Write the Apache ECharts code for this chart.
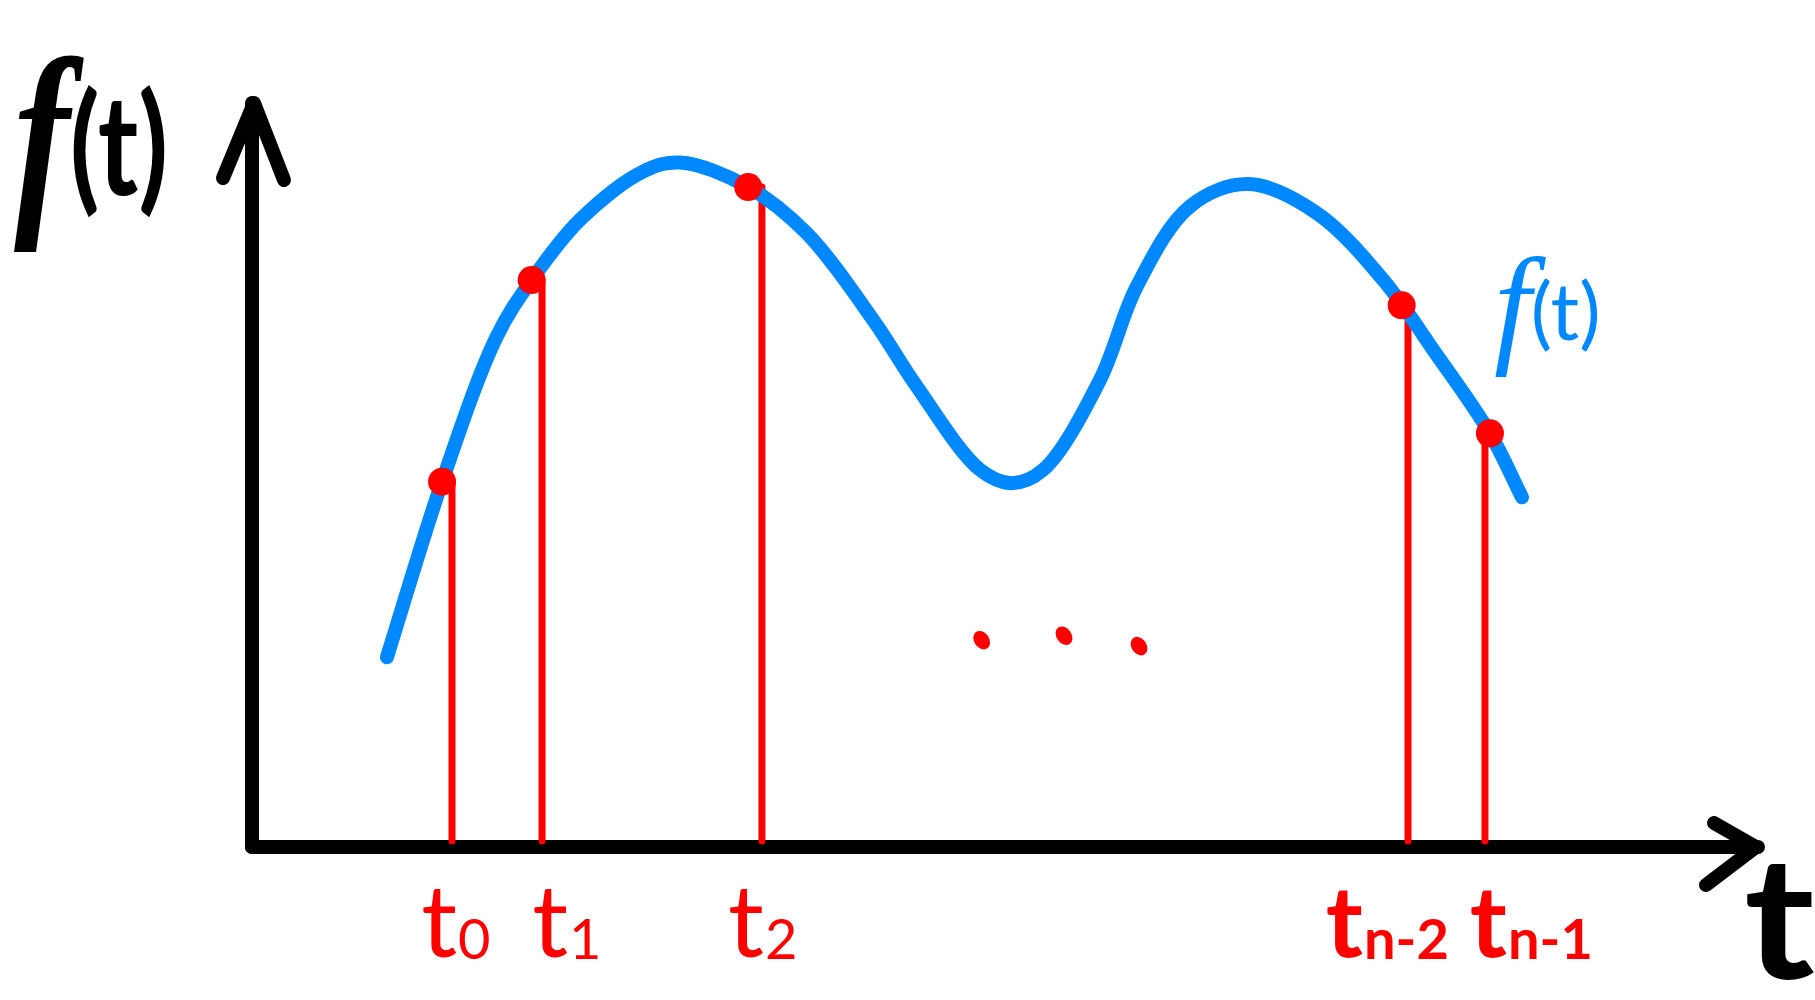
<!DOCTYPE html>
<html>
<head>
<meta charset="utf-8">
<script src="https://cdn.jsdelivr.net/npm/echarts@6/dist/echarts.min.js"></script>
<style>
html,body{margin:0;padding:0;background:#fff;}
#chart{width:1815px;height:1000px;}
</style>
</head>
<body>
<div id="chart"></div>
<script>
// ---------- data ----------
const curveX = [8.96, 12.62, 16.25, 18.57, 21.78, 25.98, 28.42, 32.95, 36.83, 41.26, 44.14, 48.34, 50.45, 52.54, 56.31, 58.74, 62.28, 66.16, 70.70, 75.12, 78.44, 82.20, 84.33];
const curveY = [25.5, 49.1, 68.6, 76.2, 84.3, 90.8, 92.0, 88.7, 82.5, 70.8, 61.9, 50.7, 48.9, 50.7, 62.8, 75.3, 86.1, 89.1, 85.2, 76.2, 66.8, 55.6, 47.0];
const sampleDotX = [12.62, 18.57, 32.95, 76.34, 82.20];
const sampleDotY = [49.1, 76.2, 88.7, 72.8, 55.6];
const sampleLineX = [13.28, 19.26, 33.86, 76.76, 81.87];
const sampleSub = ['0', '1', '2', 'n-2', 'n-1'];
const ellipsisX = [48.45, 53.92, 58.90];
const ellipsisY = [27.8, 28.4, 27.0];
const axisMin = 0, axisMax = 100;
const yAxisTitle = ['f', '(t)'];
const xAxisTitle = 't';
const curveTitle = ['f', '(t)'];

// ---------- styles ----------
const RED = '#ff0000';
const BLUE = '#0088ff';
const BLACK = '#000000';
const FONT = 'Lato';
const SERIF = '"Liberation Serif"';
const labelShift = [5, 26, 2, -45, 22];      // t right edge relative to its line
const labelWeight = ['normal', 'normal', 'normal', 'bold', 'bold'];
const T_SIZE = 100, SUB_SIZE = 56;
const T_DY = 78, SUB_DY = 94;

const chart = echarts.init(document.getElementById('chart'), null, {renderer: 'canvas'});

const axisCommon = {
  type: 'value', min: axisMin, max: axisMax,
  axisTick: {show: false}, axisLabel: {show: false}, splitLine: {show: false},
  axisLine: {show: true, onZero: false, lineStyle: {color: BLACK, width: 14}}
};

// centripetal Catmull-Rom through the curve points, as cubic Beziers in pixel space
function smoothPath(P) {
  const n = P.length;
  const pts = [[2 * P[0][0] - P[1][0], 2 * P[0][1] - P[1][1]]].concat(P,
    [[2 * P[n - 1][0] - P[n - 2][0], 2 * P[n - 1][1] - P[n - 2][1]]]);
  const dist = (a, b) => Math.hypot(a[0] - b[0], a[1] - b[1]);
  let path = 'M' + P[0][0] + ',' + P[0][1];
  for (let i = 1; i < pts.length - 2; i++) {
    const p0 = pts[i - 1], p1 = pts[i], p2 = pts[i + 1], p3 = pts[i + 2];
    const d1 = Math.sqrt(dist(p0, p1)) || 1e-6, d2 = Math.sqrt(dist(p1, p2)) || 1e-6, d3 = Math.sqrt(dist(p2, p3)) || 1e-6;
    const a1 = d1 * d1, a2 = d2 * d2, a3 = d3 * d3;
    const k1 = 3 * d1 * (d1 + d2), k2 = 3 * d3 * (d3 + d2);
    const c1 = [0, 1].map(j => (a1 * p2[j] - a2 * p0[j] + (2 * a1 + 3 * d1 * d2 + a2) * p1[j]) / k1);
    const c2 = [0, 1].map(j => (a3 * p1[j] - a2 * p3[j] + (2 * a3 + 3 * d3 * d2 + a2) * p2[j]) / k2);
    path += ' C' + c1[0] + ',' + c1[1] + ' ' + c2[0] + ',' + c2[1] + ' ' + p2[0] + ',' + p2[1];
  }
  return path;
}

const option = {
  backgroundColor: '#ffffff',
  animation: false,
  grid: {left: 252, right: 57, top: 103, bottom: 153, containLabel: false},
  xAxis: Object.assign({}, axisCommon),
  yAxis: Object.assign({}, axisCommon),
  graphic: [
    {type: 'text', x: 14, y: 150, scaleX: 0.78,
      style: {text: '{f|' + yAxisTitle[0] + '}{p|' + yAxisTitle[1] + '}', fill: BLACK, textAlign: 'left', textVerticalAlign: 'middle',
        rich: {f: {font: 'italic bold 215px ' + SERIF, fill: BLACK}, p: {font: 'bold 140px ' + FONT, fill: BLACK}}}},
    {type: 'text', x: 1744, y: 924, scaleX: 1.12,
      style: {text: xAxisTitle, font: 'bold 170px ' + FONT, fill: BLACK, textAlign: 'left', textVerticalAlign: 'middle'}},
    {type: 'text', x: 1494, y: 314,
      style: {text: '{f|' + curveTitle[0] + '}{p|' + curveTitle[1] + '}', fill: BLUE, textAlign: 'left', textVerticalAlign: 'middle',
        rich: {f: {font: 'italic 132px ' + SERIF, fill: BLUE}, p: {font: '80px ' + FONT, fill: BLUE}}}}
  ],
  series: [
    {
      // axis arrow heads, anchored at the axis ends
      type: 'custom', name: 'arrows', z: 5, silent: true,
      data: [[axisMax, axisMin, 0], [axisMin, axisMax, 1]],
      renderItem: function (params, api) {
        const p = api.coord([api.value(0), api.value(1)]);
        const isY = api.value(2) === 1;
        const pts = isY
          ? [[p[0] - 29, p[1] + 75], [p[0] + 2, p[1]], [p[0] + 32, p[1] + 77]]
          : [[p[0] - 44, p[1] - 24], [p[0] - 2, p[1]], [p[0] - 52, p[1] + 38]];
        return {type: 'polyline', shape: {points: pts},
          style: {stroke: BLACK, lineWidth: 14, fill: null, lineCap: 'round', lineJoin: 'round'}};
      }
    },
    {
      type: 'custom', name: 'samples', z: 1,
      data: sampleLineX.map((x, i) => [x, sampleDotY[i]]),
      renderItem: function (params, api) {
        const i = params.dataIndex;
        const x = api.value(0), yTop = api.value(1);
        const top = api.coord([x, yTop]);
        const bot = api.coord([x, 0]);
        const tx = bot[0] + labelShift[i];
        return {
          type: 'group',
          children: [
            {type: 'line', shape: {x1: top[0], y1: top[1], x2: bot[0], y2: bot[1] - 6},
              style: {stroke: RED, lineWidth: 7, lineCap: 'round'}},
            {type: 'text', x: tx, y: bot[1] + T_DY,
              style: {text: 't', font: labelWeight[i] + ' ' + T_SIZE + 'px ' + FONT, fill: RED, textAlign: 'right', textVerticalAlign: 'middle'}},
            {type: 'text', x: tx + 1, y: bot[1] + SUB_DY,
              style: {text: sampleSub[i], font: labelWeight[i] + ' ' + SUB_SIZE + 'px ' + FONT, fill: RED, textAlign: 'left', textVerticalAlign: 'middle'}}
          ]
        };
      }
    },
    {
      type: 'custom', name: 'f(t)', z: 2, silent: true,
      data: curveX.map((x, i) => [x, curveY[i]]),
      renderItem: function (params, api) {
        if (params.dataIndex !== 0) return {type: 'group', children: []};
        const P = curveX.map((x, i) => api.coord([x, curveY[i]]));
        return {type: 'path', shape: {pathData: smoothPath(P)},
          style: {stroke: BLUE, lineWidth: 14, fill: null, lineCap: 'round', lineJoin: 'round'}};
      }
    },
    {
      type: 'scatter', name: 'points', z: 3,
      data: sampleDotX.map((x, i) => [x, sampleDotY[i]]),
      symbol: 'circle', symbolSize: 28,
      itemStyle: {color: RED, opacity: 1}
    },
    {
      type: 'scatter', name: 'ellipsis', z: 3,
      data: ellipsisX.map((x, i) => [x, ellipsisY[i]]),
      symbol: 'circle', symbolSize: [15, 20], symbolRotate: 35,
      itemStyle: {color: RED, opacity: 1}
    }
  ]
};
chart.setOption(option);
</script>
</body>
</html>
